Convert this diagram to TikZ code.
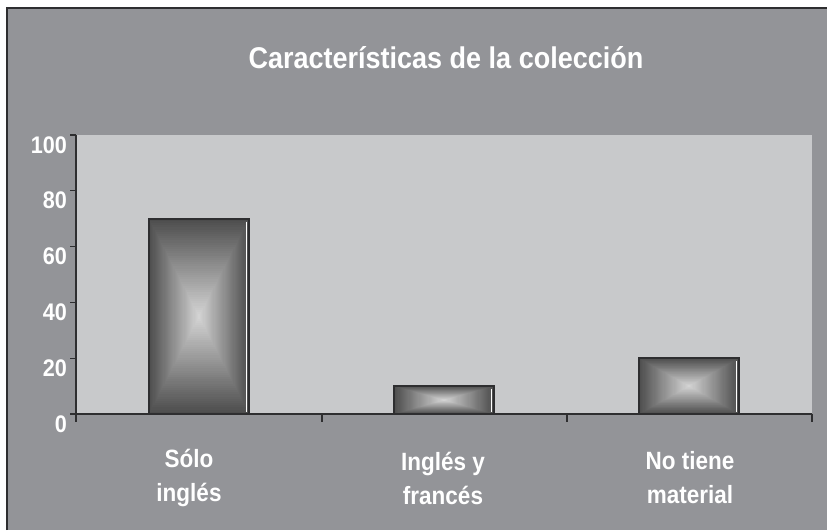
\documentclass[tikz,border=0pt]{standalone}
\usepackage{fontspec}
\setmainfont[FakeStretch=0.9]{Liberation Sans}
\definecolor{chartbg}{HTML}{939498}
\definecolor{plotbg}{HTML}{C8C9CB}
\definecolor{axisgray}{HTML}{2E2E30}
\tikzset{
  barframe/.style={draw=axisgray, line width=1.6pt},
  ylabel/.style={anchor=base east, inner sep=0pt, text=white, font=\bfseries\fontsize{24}{26}\selectfont},
  catlabel/.style={text=white, align=center, font=\bfseries\fontsize{25}{34}\selectfont}
}
% rectangular gradient bar: #1 left, #2 right, #3 top
\newcommand{\gradbar}[3]{
  \foreach \i in {0, ..., 44} {
    \pgfmathsetmacro{\t}{\i/90}
    \pgfmathsetmacro{\c}{70 - 1.2*\i}
    \fill [black!\c] ({#1 + \t*(#2 - #1)}, {414 - \t*(414 - #3)})
          rectangle ({#2 - \t*(#2 - #1)}, {#3 + \t*(414 - #3)});
  }
  \draw [barframe] (#1, 414) rectangle (#2, #3);
  \draw [white, line width=1pt] (#2 - 3, #3 + 3) -- (#2 - 3, 412);
}
\begin{document}
\begin{tikzpicture}[x=1pt, y=-1pt]
    \useasboundingbox (0, 0) rectangle (827, 530);

    % Chart background and frame
    \fill [chartbg] (7, 8) rectangle (827, 530);
    \draw [axisgray, line width=1.6pt] (7, 530) -- (7, 8) -- (827, 8);

    % Title
    \node [anchor=base, text=white, font=\bfseries\fontsize{30}{32}\selectfont] (title) at (446, 68)
          {Características de la colección};

    % Plot area
    \fill [plotbg] (76, 135) rectangle (812, 414);

    % Bars
    \gradbar{149}{249}{218.7}
    \gradbar{394}{494}{386.1}
    \gradbar{639}{739}{358.2}

    % Axes
    \draw [axisgray, line width=1.3pt] (76, 135) -- (76, 422);
    \draw [axisgray, line width=1.3pt] (76, 414) -- (812, 414);
    \foreach \v in {0, 20, ..., 100} {
      \draw [axisgray, line width=1.3pt] (70, 414 - 2.79*\v) -- (76, 414 - 2.79*\v);
      \node [ylabel] (y\v) at (67, 432 - 2.79*\v) {\v};
    }
    \foreach \x in {322, 567, 812}
      \draw [axisgray, line width=1.3pt] (\x, 414) -- (\x, 422);

    % Category labels
    \node [catlabel] (solo) at (189, 478) {Sólo\\inglés};
    \node [catlabel] (ingfr) at (443, 478) {Inglés y\\francés};
    \node [catlabel] (notiene) at (690, 478) {No tiene\\material};
\end{tikzpicture}
\end{document}
